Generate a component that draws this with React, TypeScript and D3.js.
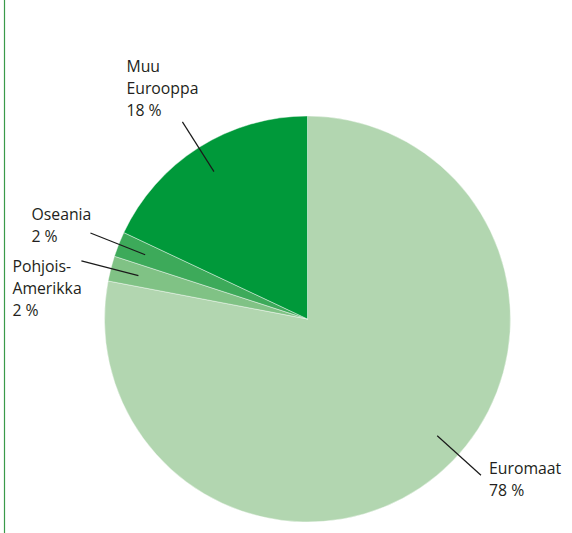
import React, { useEffect, useRef } from 'react'
import * as d3 from 'd3'

// data
const regions = ['Euromaat', 'Pohjois-Amerikka', 'Oseania', 'Muu Eurooppa']
const shares = [78, 2, 2, 18]
const labelLines = [['Euromaat', '78 %'], ['Pohjois-', 'Amerikka', '2 %'], ['Oseania', '2 %'], ['Muu', 'Eurooppa', '18 %']]

const colors = ['#b2d6b0', '#80c285', '#3daa5a', '#00993a']

// leader/label layout (angle in degrees, clockwise from top; text anchor offset)
const layout = [
  { angle: 132, tx: 8, ty: -1, first: true },
  { angle: null, tx: -69, ty: 11, first: true },
  { angle: null, tx: -59, ty: 9, first: false },
  { angle: null, tx: -56, ty: -6, first: false },
]

const W = 572
const H = 533
const cx = 307.5
const cy = 319
const R = 203

const App = () => {
  const ref = useRef<SVGSVGElement>(null)
  useEffect(() => {
    const svg = d3.select(ref.current)
    svg.selectAll('*').remove()

    // left border line
    svg.append('line')
      .attr('x1', 4.5).attr('x2', 4.5)
      .attr('y1', 0).attr('y2', H)
      .style('stroke', '#3a9a4a')
      .style('stroke-width', 1.2)

    const pie = d3.pie<number>().sort(null).value(d => d)
    const arcs = pie(shares)
    const arc = d3.arc<d3.PieArcDatum<number>>().innerRadius(0).outerRadius(R)

    const g = svg.append('g').attr('transform', `translate(${cx},${cy})`)
    g.selectAll('path')
      .data(arcs)
      .enter()
      .append('path')
      .attr('d', arc)
      .attr('fill', (d, i) => colors[i])
      .style('stroke', '#ffffff')
      .style('stroke-width', 0.6)
      .style('stroke-opacity', 0.7)

    const r1 = R * 0.86
    const r2 = R * 1.15
    arcs.forEach((a, i) => {
      const L = layout[i]
      const ang = L.angle != null ? (L.angle * Math.PI) / 180 : (a.startAngle + a.endAngle) / 2
      const x1 = Math.sin(ang) * r1
      const y1 = -Math.cos(ang) * r1
      const x2 = Math.sin(ang) * r2
      const y2 = -Math.cos(ang) * r2
      g.append('line')
        .attr('x1', x1).attr('y1', y1)
        .attr('x2', x2).attr('y2', y2)
        .style('stroke', '#1a1a1a')
        .style('stroke-width', 1.2)

      const lines = labelLines[i]
      const lh = 22
      // first: ty is baseline of first line, otherwise ty is baseline of last line
      const baseY = L.first ? y2 + L.ty : y2 + L.ty - (lines.length - 1) * lh
      const t = g.append('text')
        .attr('x', x2 + L.tx)
        .attr('y', baseY)
        .attr('font-family', '"Open Sans", sans-serif')
        .attr('font-size', 15.8)
        .attr('fill', '#231f20')
        .attr('aria-label', regions[i])
      lines.forEach((s, j) => {
        t.append('tspan')
          .attr('x', x2 + L.tx)
          .attr('dy', j === 0 ? 0 : lh)
          .text(s)
      })
    })
  }, [])
  return (
    <div style={{ position: 'fixed', left: 0, top: 0 }}>
      <svg ref={ref} width={W} height={H} style={{ display: 'block', background: '#fff' }} />
    </div>
  )
}

export default App
